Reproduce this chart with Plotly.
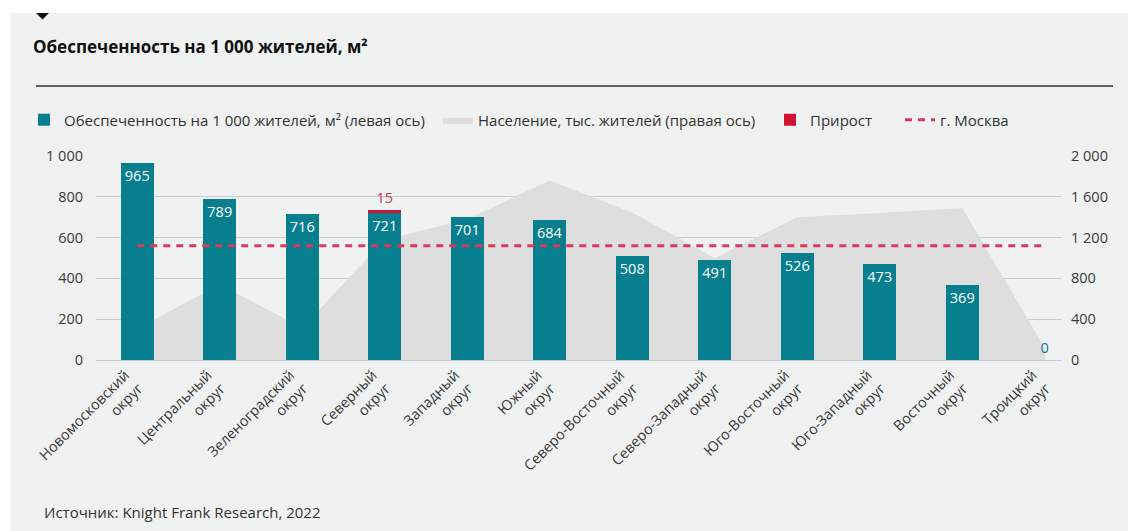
import plotly.graph_objects as go

# ---------------- data ----------------
districts = [
    "Новомосковский<br>округ", "Центральный<br>округ", "Зеленоградский<br>округ",
    "Северный<br>округ", "Западный<br>округ", "Южный<br>округ",
    "Северо-Восточный<br>округ", "Северо-Западный<br>округ", "Юго-Восточный<br>округ",
    "Юго-Западный<br>округ", "Восточный<br>округ", "Троицкий<br>округ",
]
supply_per_1000 = [965, 789, 716, 721, 701, 684, 508, 491, 526, 473, 369, 0]
growth = [None, None, None, 15, None, None, None, None, None, None, None, None]
population = [310, 740, 315, 1180, 1380, 1760, 1445, 1000, 1400, 1440, 1490, 120]
moscow_avg = 560

left_ticks = [0, 200, 400, 600, 800, 1000]
right_ticks = [0, 400, 800, 1200, 1600, 2000]

# ---------------- style ----------------
TEAL = "#077f8e"
RED = "#cf1330"
DASH_RED = "#dc3a5c"
AREA = "#dedede"
PANEL = "#eff2f0"
GRID = "#cdcdcd"
FONT = "Open Sans"

W, H = 1128, 531
L, R, T, B = 96, 66, 156, 171
PW, PH = W - L - R, H - T - B


def xp(px):
    return (px - L) / PW


def yp(py):
    return (H - B - py) / PH


fig = go.Figure()

fig.add_trace(go.Scatter(
    x=districts, y=population, name="Население, тыс. жителей (правая ось)",
    mode="lines", line=dict(width=0, color=AREA), fill="tozeroy", fillcolor=AREA,
    yaxis="y", legend="legend2", hoverinfo="skip",
))

text_pos = ["inside"] * (len(supply_per_1000) - 1) + ["outside"]
text_col = ["white"] * (len(supply_per_1000) - 1) + [TEAL]
fig.add_trace(go.Bar(
    x=districts, y=supply_per_1000, name="Обеспеченность на 1 000 жителей, м² (левая ось)",
    marker=dict(color=TEAL, line=dict(width=0)), width=0.4,
    text=[str(v) for v in supply_per_1000], textposition=text_pos,
    insidetextanchor="end", textangle=0, constraintext="none",
    textfont=dict(family=FONT, size=14.5, color=text_col),
    cliponaxis=False, yaxis="y2", legend="legend",
))

fig.add_trace(go.Bar(
    x=districts, y=growth, name="Прирост",
    marker=dict(color=RED, line=dict(width=0)), width=0.4,
    text=[("" if v is None else str(v)) for v in growth], textposition="outside",
    textangle=0, constraintext="none",
    textfont=dict(family=FONT, size=14.5, color="#d23452"),
    cliponaxis=False, yaxis="y2", legend="legend3",
))

fig.add_trace(go.Scatter(
    x=districts, y=[moscow_avg] * len(districts), name="г. Москва",
    mode="lines", line=dict(color=DASH_RED, width=3, dash="7px,6px"),
    yaxis="y2", legend="legend4", hoverinfo="skip",
))

leg_common = dict(orientation="h", yanchor="middle", xanchor="left",
                  font=dict(family=FONT, size=15, color="#333333"),
                  bgcolor="rgba(0,0,0,0)", borderwidth=0)
legend_y = yp(120)

shapes = [
    dict(type="rect", xref="paper", yref="paper", x0=xp(10), x1=xp(1135), y0=yp(13), y1=yp(540),
         fillcolor=PANEL, line=dict(width=0), layer="below"),
    dict(type="line", xref="paper", yref="paper", x0=xp(36), x1=xp(1113), y0=yp(86), y1=yp(86),
         line=dict(color="#5f5f5f", width=2)),
    dict(type="path", xref="paper", yref="paper",
         path=f"M {xp(36)},{yp(13)} L {xp(49)},{yp(13)} L {xp(42.5)},{yp(19.5)} Z",
         fillcolor="#111111", line=dict(width=0)),
]

fig.update_layout(
    width=W, height=H,
    margin=dict(l=L, r=R, t=T, b=B, pad=0),
    paper_bgcolor="white", plot_bgcolor="rgba(0,0,0,0)",
    font=dict(family=FONT, size=14, color="#333333"),
    separators=", ",
    barmode="stack",
    showlegend=True,
    title=dict(text="<b>Обеспеченность на 1 000 жителей, м²</b>", xref="container", yref="container",
               x=33 / W, xanchor="left", y=1 - 47 / H, yanchor="middle",
               font=dict(family=FONT, size=17, color="#111111")),
    xaxis=dict(range=[-0.5, -0.5 + PW / 82.5], showgrid=False, showline=True, linecolor="#c3cfd4",
               linewidth=1, ticks="", tickangle=-45, zeroline=False, ticklabelshift=-12,
               tickfont=dict(family=FONT, size=14.5, color="#3a3a3a")),
    yaxis=dict(side="right", range=[0, 2000], tickvals=right_ticks, tickformat=",",
               showgrid=True, gridcolor=GRID, gridwidth=1, zeroline=False, showline=False,
               ticks="", ticklabelstandoff=8, tickfont=dict(family=FONT, size=14.5, color="#3a3a3a")),
    yaxis2=dict(side="left", overlaying="y", range=[0, 1000], tickvals=left_ticks, tickformat=",",
                showgrid=False, zeroline=False, showline=False, ticks="", ticklabelstandoff=12,
                tickfont=dict(family=FONT, size=14.5, color="#3a3a3a")),
    legend=dict(x=xp(24), y=legend_y, **leg_common),
    legend2=dict(x=xp(438), y=legend_y, **leg_common),
    legend3=dict(x=xp(770), y=legend_y, **leg_common),
    legend4=dict(x=xp(900), y=legend_y, **leg_common),
    shapes=shapes,
    annotations=[
        dict(text="Источник: Knight Frank Research, 2022", xref="paper", yref="paper",
             x=xp(42), y=yp(512), xanchor="left", yanchor="middle", showarrow=False,
             font=dict(family=FONT, size=15, color="#333333")),
    ],
)

fig.write_html("out.html")
